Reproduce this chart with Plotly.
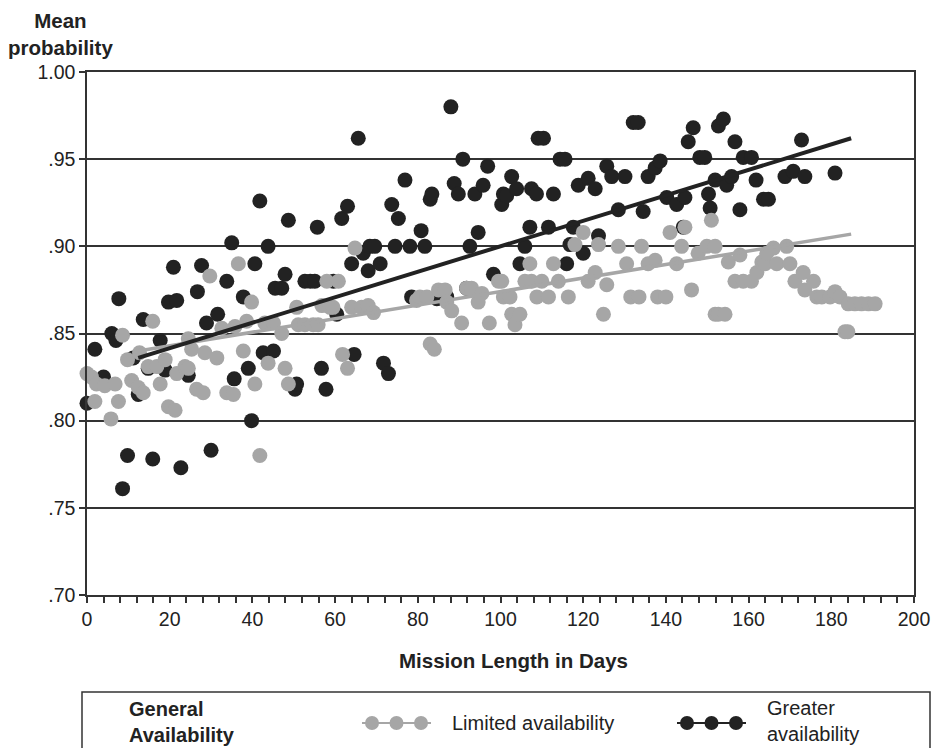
import plotly.graph_objects as go

# ---------------- data ----------------
greater_days = [0, 1.9, 4, 6, 7, 7.7, 8.6, 9.8, 11.2, 12.4, 13.6, 14.8, 15.9, 17.7, 18.9, 19.7, 20.9, 21.7,
                22.7, 24.5, 26.7, 27.7, 28.9, 30, 31.6, 33.8, 35, 35.6, 37.8, 39, 39.8, 40.6, 41.8, 42.6,
                43.8, 45.1, 45.5, 47.1, 47.9, 48.7, 50.3, 50.7, 52.7, 54, 55.1, 55.7, 56.7, 57.8, 59.6,
                60.4, 61.6, 63, 64, 64.6, 65.6, 66.8, 68, 68.4, 69.6, 70.9, 71.7, 72.9, 73.7, 74.5, 75.3,
                76.9, 78.1, 78.5, 80.8, 81.7, 83, 83.4, 84.6, 87, 88, 88.8, 89.8, 90.9, 91.8, 92.6, 93.8,
                94.6, 95.8, 96.9, 98.3, 100.3, 100.7, 101.5, 102.7, 103.9, 104.7, 105.9, 107.1, 107.5,
                108.7, 109.1, 110.4, 111.6, 112.8, 114.4, 115.6, 116, 116.8, 117.6, 118.8, 120, 121.2,
                122.9, 123.7, 125.7, 126.9, 128.5, 130.1, 132.1, 133.3, 134.5, 135.7, 137.4, 138.6, 140.2,
                142.6, 144.2, 144.6, 145.4, 146.6, 148.2, 149.4, 150.3, 150.7, 151.9, 152.7, 153.9, 154.7,
                155.9, 156.7, 157.9, 158.7, 160.7, 161.8, 163.6, 164.8, 168.8, 170.8, 172.8, 173.6, 180.9]
greater_prob = [0.810, 0.841, 0.825, 0.850, 0.846, 0.870, 0.761, 0.780, 0.836, 0.815, 0.858, 0.830, 0.778,
                0.846, 0.829, 0.868, 0.888, 0.869, 0.773, 0.826, 0.874, 0.889, 0.856, 0.783, 0.861, 0.880,
                0.902, 0.824, 0.871, 0.830, 0.800, 0.890, 0.926, 0.839, 0.900, 0.840, 0.876, 0.876, 0.884,
                0.915, 0.818, 0.821, 0.880, 0.880, 0.880, 0.911, 0.830, 0.818, 0.880, 0.861, 0.916, 0.923,
                0.890, 0.838, 0.962, 0.896, 0.886, 0.900, 0.900, 0.890, 0.833, 0.827, 0.924, 0.900, 0.916,
                0.938, 0.900, 0.871, 0.909, 0.900, 0.927, 0.930, 0.870, 0.871, 0.980, 0.936, 0.930, 0.950,
                0.876, 0.900, 0.930, 0.908, 0.935, 0.946, 0.884, 0.924, 0.930, 0.929, 0.940, 0.933, 0.890,
                0.900, 0.911, 0.933, 0.930, 0.962, 0.962, 0.911, 0.930, 0.950, 0.950, 0.890, 0.901, 0.911,
                0.935, 0.896, 0.939, 0.933, 0.906, 0.946, 0.940, 0.921, 0.940, 0.971, 0.971, 0.920, 0.940,
                0.945, 0.949, 0.928, 0.924, 0.911, 0.928, 0.960, 0.968, 0.951, 0.951, 0.930, 0.922, 0.938,
                0.969, 0.973, 0.935, 0.940, 0.960, 0.921, 0.951, 0.951, 0.938, 0.927, 0.927, 0.940, 0.943,
                0.961, 0.940, 0.942]

limited_days = [0, 1.1, 1.9, 2.3, 4.3, 5.8, 6.8, 7.6, 8.6, 9.8, 10.8, 12.4, 12.7, 13.6, 14.8, 15.9, 16.9,
                17.7, 18.9, 19.7, 21.3, 21.7, 23.7, 24.5, 24.5, 25.3, 26.5, 28.1, 28.5, 29.7, 31.4, 32.6,
                33.8, 35.4, 35.8, 36.6, 37.8, 38.6, 39.8, 40.6, 41.8, 43, 43.8, 45.1, 47.1, 47.9, 48.7,
                50.7, 51.1, 52.7, 54.7, 55.9, 56.8, 58, 58.8, 59.5, 60.8, 61.8, 63, 64, 64.8, 66.4, 68,
                69.3, 79.7, 80.5, 82.2, 83, 84, 85, 86.6, 87, 88.2, 90.6, 91.8, 93, 94.6, 95.5, 97.3, 99.5,
                100.3, 100.7, 102.3, 102.7, 103.5, 104.7, 105.9, 107.1, 107.5, 108.8, 110, 111.6, 112.8,
                114, 116.4, 118, 120, 121.2, 122.9, 123.7, 124.9, 125.7, 128.5, 130.5, 131.5, 133.5, 134.1,
                135.7, 137.4, 138, 140, 141, 142.6, 143.8, 144.6, 146.2, 147.8, 149.9, 151, 151.9, 151.9,
                152.7, 154.3, 155.1, 156.7, 157.9, 158.7, 160.7, 162, 163.2, 164, 164.4, 166, 166.8, 169.2,
                170, 171.2, 173.2, 173.6, 175.7, 176.5, 177.7, 179.7, 180.9, 182.1, 183.3, 184, 184.1,
                185.7, 187.3, 189, 190.6]
limited_prob = [0.827, 0.825, 0.811, 0.821, 0.820, 0.801, 0.821, 0.811, 0.849, 0.835, 0.823, 0.819, 0.839,
                0.816, 0.831, 0.857, 0.831, 0.821, 0.835, 0.808, 0.806, 0.827, 0.831, 0.847, 0.830, 0.841,
                0.818, 0.816, 0.839, 0.883, 0.836, 0.853, 0.816, 0.815, 0.854, 0.890, 0.840, 0.857, 0.868,
                0.821, 0.780, 0.856, 0.833, 0.856, 0.850, 0.830, 0.821, 0.865, 0.855, 0.855, 0.855, 0.855,
                0.866, 0.880, 0.865, 0.865, 0.880, 0.838, 0.830, 0.865, 0.899, 0.865, 0.866, 0.862, 0.869,
                0.871, 0.871, 0.844, 0.841, 0.875, 0.875, 0.868, 0.863, 0.856, 0.876, 0.876, 0.868, 0.873,
                0.856, 0.880, 0.880, 0.871, 0.871, 0.861, 0.855, 0.861, 0.880, 0.890, 0.880, 0.871, 0.880,
                0.871, 0.890, 0.880, 0.871, 0.901, 0.908, 0.880, 0.885, 0.901, 0.861, 0.878, 0.900, 0.890,
                0.871, 0.871, 0.900, 0.890, 0.892, 0.871, 0.871, 0.908, 0.890, 0.900, 0.911, 0.875, 0.896,
                0.900, 0.915, 0.861, 0.900, 0.861, 0.861, 0.891, 0.880, 0.895, 0.880, 0.880, 0.885, 0.891,
                0.890, 0.896, 0.899, 0.890, 0.900, 0.890, 0.880, 0.885, 0.875, 0.880, 0.871, 0.871, 0.871,
                0.874, 0.871, 0.851, 0.851, 0.867, 0.867, 0.867, 0.867, 0.867]

# trend lines (end points)
trend_days = [12.4, 184.8]
greater_trend = [0.836, 0.962]
limited_trend = [0.840, 0.907]

y_tick_vals = [0.70, 0.75, 0.80, 0.85, 0.90, 0.95, 1.00]
y_tick_text = [".70", ".75", ".80", ".85", ".90", ".95", "1.00"]
x_tick_vals = [0, 20, 40, 60, 80, 100, 120, 140, 160, 180, 200]

GRAY = "#a6a6a6"
BLACK = "#222222"
FONT = "Liberation Sans, Arial, sans-serif"

fig = go.Figure()
fig.add_trace(go.Scatter(x=greater_days, y=greater_prob, mode="markers", cliponaxis=False,
                         marker=dict(color=BLACK, size=15, line=dict(width=0)),
                         name="Greater availability", showlegend=False))
fig.add_trace(go.Scatter(x=limited_days, y=limited_prob, mode="markers", cliponaxis=False,
                         marker=dict(color=GRAY, size=15, line=dict(width=0)),
                         name="Limited availability", showlegend=False))
fig.add_trace(go.Scatter(x=trend_days, y=limited_trend, mode="lines",
                         line=dict(color=GRAY, width=3.5), showlegend=False))
fig.add_trace(go.Scatter(x=trend_days, y=greater_trend, mode="lines",
                         line=dict(color=BLACK, width=4), showlegend=False))

W, H = 933, 748
L, R, T, B = 87, 19, 72, 153
pw, ph = W - L - R, H - T - B


def px(xp):
    return (xp - L) / pw


def py(yp):
    return (H - B - yp) / ph


fig.update_layout(
    width=W, height=H,
    margin=dict(l=L, r=R, t=T, b=B, autoexpand=False),
    paper_bgcolor="white", plot_bgcolor="white",
    font=dict(family=FONT, size=19.5, color="#222222"),
    xaxis=dict(range=[0, 200], tickvals=x_tick_vals, showgrid=False, zeroline=False,
               automargin=False,
               showline=True, linecolor="#333333", linewidth=1.5, mirror=True,
               ticks="outside", ticklen=6, tickcolor="#333333", tickwidth=1.5,
               minor=dict(dtick=4, ticks="outside", ticklen=6, tickcolor="#333333",
                          tickwidth=1.5, showgrid=False),
               tickfont=dict(size=19.5)),
    yaxis=dict(range=[0.70, 1.00], tickvals=y_tick_vals, ticktext=y_tick_text,
               automargin=False,
               showgrid=True, gridcolor="#333333", gridwidth=1.5, zeroline=False,
               showline=True, linecolor="#333333", linewidth=1.5, mirror=True,
               ticks="outside", ticklen=6, tickcolor="#333333", tickwidth=1.5,
               tickfont=dict(size=19.5)),
)

annotations = [
    dict(text="<b>Mean<br>probability</b>", x=px(60), y=py(7), xref="paper", yref="paper",
         xanchor="center", yanchor="top", showarrow=False, font=dict(size=20.5), align="center"),
    dict(text="<b>Mission Length in Days</b>", x=px(513), y=py(660), xref="paper", yref="paper",
         xanchor="center", yanchor="middle", showarrow=False, font=dict(size=20.5)),
    dict(text="<b>General<br>Availability</b>", x=px(127), y=py(722), xref="paper", yref="paper",
         xanchor="left", yanchor="middle", showarrow=False, font=dict(size=20), align="left"),
    dict(text="Limited availability", x=px(450), y=py(723), xref="paper", yref="paper",
         xanchor="left", yanchor="middle", showarrow=False, font=dict(size=20), align="left"),
    dict(text="Greater<br>availability", x=px(765), y=py(721), xref="paper", yref="paper",
         xanchor="left", yanchor="middle", showarrow=False, font=dict(size=20), align="left"),
]
fig.update_layout(annotations=annotations)

shapes = [dict(type="rect", xref="paper", yref="paper", x0=px(82), x1=px(930), y0=py(770), y1=py(692),
               line=dict(color="#333333", width=1.5), fillcolor="rgba(0,0,0,0)")]
for (x0, x1, col) in [(372, 421, GRAY), (687, 736, BLACK)]:
    shapes.append(dict(type="line", xref="paper", yref="paper", x0=px(x0 - 10), x1=px(x1 + 10),
                       y0=py(723), y1=py(723), line=dict(color=col, width=2)))
    for cx in (x0, (x0 + x1) / 2, x1):
        shapes.append(dict(type="circle", xref="paper", yref="paper", xsizemode="pixel",
                           ysizemode="pixel", xanchor=px(cx), yanchor=py(723),
                           x0=-7, x1=7, y0=-7, y1=7, fillcolor=col, line=dict(width=0)))
fig.update_layout(shapes=shapes)

fig.write_html("out.html")
